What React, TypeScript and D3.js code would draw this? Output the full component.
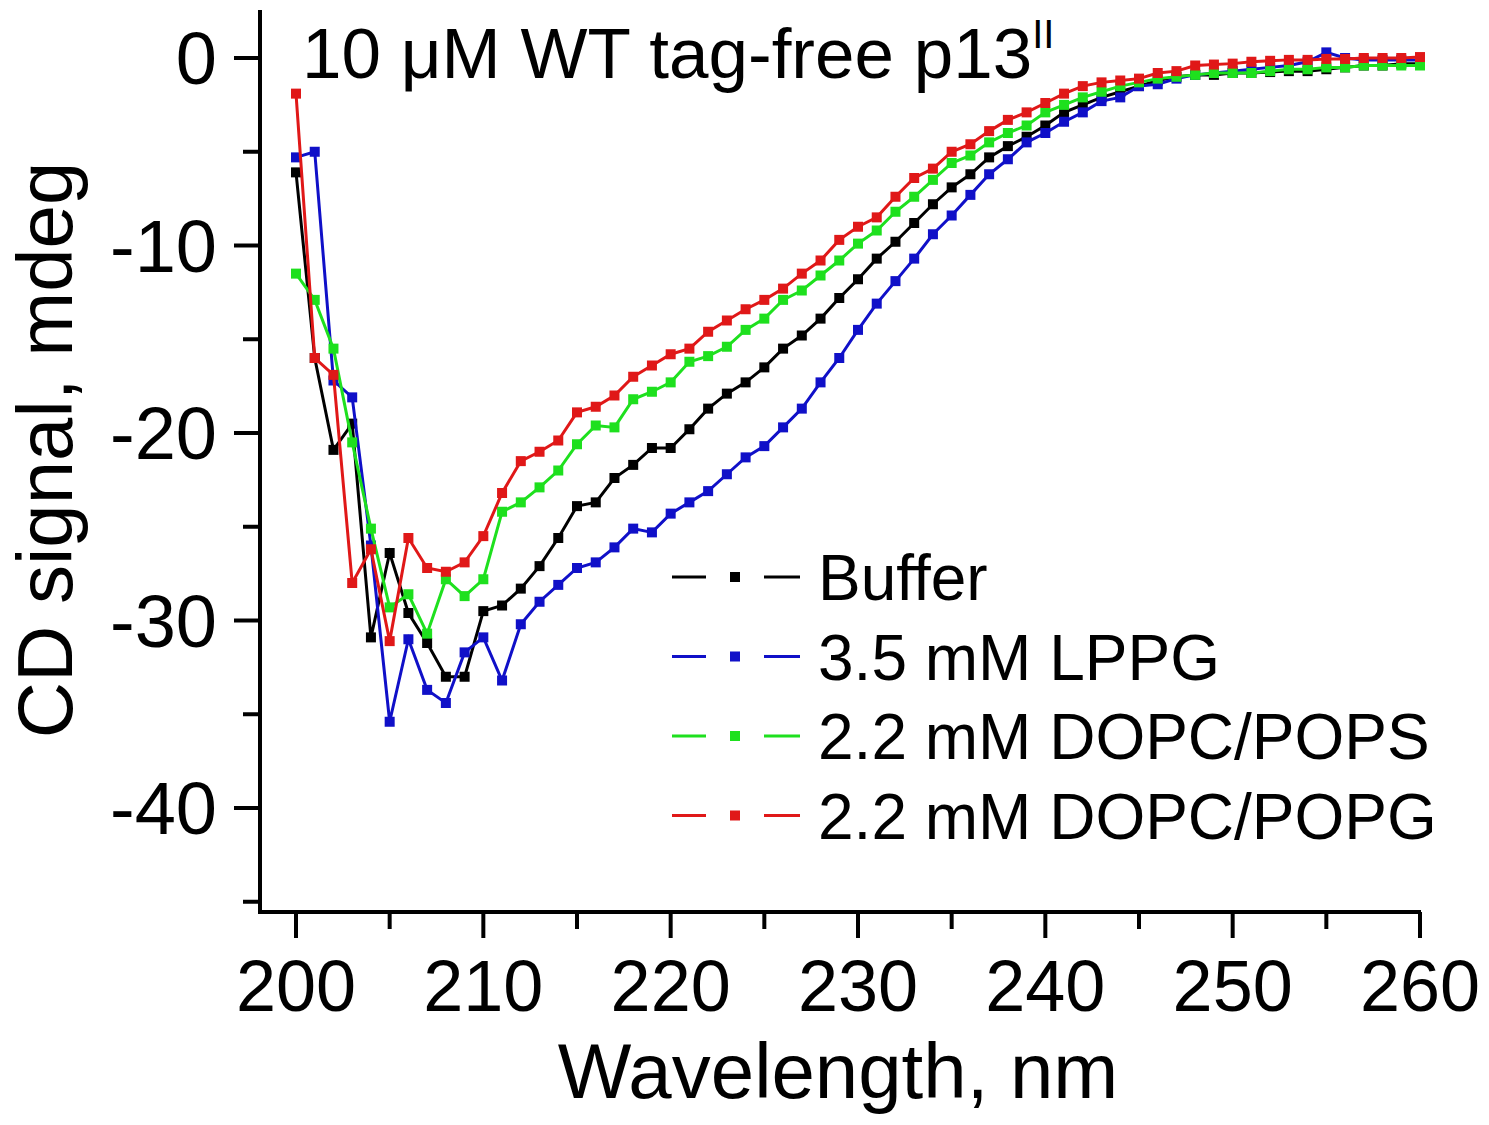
import React from "react";
import * as d3 from "d3";

const wavelengths: number[] = d3.range(200, 261);

const buffer: number[] = [
  -6.1, -16.0, -20.9, -19.5, -30.9, -26.4, -29.6, -31.2, -33.0, -33.0,
  -29.5, -29.2, -28.3, -27.1, -25.6, -23.9, -23.7, -22.4, -21.7, -20.8,
  -20.8, -19.8, -18.7, -17.9, -17.3, -16.5, -15.5, -14.8, -13.9, -12.8,
  -11.8, -10.7, -9.8, -8.8, -7.8, -6.9, -6.2, -5.3, -4.7, -4.2,
  -3.6, -2.9, -2.5, -2.1, -1.8, -1.5, -1.2, -1.0, -0.9, -0.9,
  -0.8, -0.8, -0.75, -0.7, -0.7, -0.6, -0.5, -0.4, -0.4, -0.3, -0.3,
];

const lppg: number[] = [
  -5.3, -5.0, -17.2, -18.1, -26.0, -35.4, -31.0, -33.7, -34.4, -31.7,
  -30.9, -33.2, -30.2, -29.0, -28.1, -27.2, -26.9, -26.1, -25.1, -25.3,
  -24.3, -23.7, -23.1, -22.2, -21.3, -20.7, -19.7, -18.7, -17.3, -16.0,
  -14.5, -13.1, -11.9, -10.7, -9.4, -8.4, -7.3, -6.2, -5.4, -4.5,
  -4.0, -3.4, -2.9, -2.3, -2.1, -1.5, -1.4, -1.1, -0.9, -0.8,
  -0.7, -0.6, -0.5, -0.4, -0.2, 0.3, 0.0, -0.1, -0.1, -0.1, -0.1,
];

const dopcPops: number[] = [
  -11.5, -12.9, -15.5, -20.5, -25.1, -29.3, -28.6, -30.7, -27.8, -28.7,
  -27.8, -24.2, -23.7, -22.9, -22.0, -20.6, -19.6, -19.7, -18.2, -17.8,
  -17.3, -16.2, -15.9, -15.4, -14.5, -13.9, -12.9, -12.4, -11.6, -10.8,
  -9.9, -9.2, -8.2, -7.4, -6.5, -5.6, -5.2, -4.5, -4.0, -3.6,
  -2.9, -2.5, -2.1, -1.8, -1.5, -1.3, -1.1, -1.0, -0.9, -0.8,
  -0.8, -0.8, -0.7, -0.6, -0.6, -0.5, -0.5, -0.4, -0.4, -0.4, -0.4,
];

const dopcPopg: number[] = [
  -1.9, -16.0, -16.9, -28.0, -26.2, -31.1, -25.6, -27.2, -27.4, -26.9,
  -25.5, -23.2, -21.5, -21.0, -20.4, -18.9, -18.6, -18.0, -17.0, -16.4,
  -15.8, -15.5, -14.6, -14.0, -13.4, -12.9, -12.3, -11.5, -10.8, -9.7,
  -9.0, -8.5, -7.4, -6.4, -5.9, -5.0, -4.6, -3.9, -3.3, -2.9,
  -2.4, -1.9, -1.5, -1.3, -1.2, -1.1, -0.8, -0.7, -0.4, -0.35,
  -0.3, -0.2, -0.15, -0.1, -0.1, -0.05, -0.05, 0.0, 0.0, 0.0, 0.05,
];

const seriesNames: string[] = ["Buffer", "3.5 mM LPPG", "2.2 mM DOPC/POPS", "2.2 mM DOPC/POPG"];
const seriesValues: number[][] = [buffer, lppg, dopcPops, dopcPopg];
const seriesColors: string[] = ["#000000", "#1010c8", "#1ee01e", "#e01818"];

const xMajorTicks: number[] = [200, 210, 220, 230, 240, 250, 260];
const xMinorTicks: number[] = [205, 215, 225, 235, 245, 255];
const yMajorTicks: number[] = [0, -10, -20, -30, -40];
const yMinorTicks: number[] = [-5, -15, -25, -35, -45];

const FONT = "'Liberation Sans', Arial, Helvetica, sans-serif";

export default function App() {
  const W = 1489;
  const H = 1125;
  const left = 260;
  const right = 1420;
  const top = 10;
  const bottom = 912;

  const x = d3.scaleLinear().domain([200, 260]).range([296, 1420]);
  const y = d3.scaleLinear().domain([0, -40]).range([58, 808]);

  const line = d3
    .line<number>()
    .x((_, i) => x(wavelengths[i]))
    .y((d) => y(d));

  const ms = 10;

  return (
    <svg
      width={W}
      height={H}
      viewBox={`0 0 ${W} ${H}`}
      style={{ position: "absolute", left: 0, top: 0, background: "#fff" }}
      fontFamily={FONT}
    >
      <rect x={0} y={0} width={W} height={H} fill="#fff" />

      {/* series */}
      {seriesValues.map((vals, si) => (
        <g key={si}>
          <path d={line(vals) || ""} fill="none" stroke={seriesColors[si]} strokeWidth={3} />
          {vals.map((v, i) => (
            <rect
              key={i}
              x={x(wavelengths[i]) - ms / 2}
              y={y(v) - ms / 2}
              width={ms}
              height={ms}
              fill={seriesColors[si]}
            />
          ))}
        </g>
      ))}

      {/* axes */}
      <line x1={left} x2={left} y1={top} y2={bottom + 2} stroke="#000" strokeWidth={4} />
      <line x1={left - 2} x2={right + 1} y1={bottom} y2={bottom} stroke="#000" strokeWidth={4} />

      {xMajorTicks.map((t) => (
        <g key={"xt" + t}>
          <line x1={x(t)} x2={x(t)} y1={bottom} y2={bottom + 26} stroke="#000" strokeWidth={4} />
          <text x={x(t)} y={1011} fontSize={72} textAnchor="middle" fill="#000">
            {t}
          </text>
        </g>
      ))}
      {xMinorTicks.map((t) => (
        <line key={"xm" + t} x1={x(t)} x2={x(t)} y1={bottom} y2={bottom + 17} stroke="#000" strokeWidth={4} />
      ))}

      {yMajorTicks.map((t) => (
        <g key={"yt" + t}>
          <line x1={left - 26} x2={left} y1={y(t)} y2={y(t)} stroke="#000" strokeWidth={4} />
          <text x={217} y={y(t) + 26} fontSize={74} textAnchor="end" fill="#000">
            {t === 0 ? "0" : "-" + Math.abs(t)}
          </text>
        </g>
      ))}
      {yMinorTicks.map((t) => (
        <line key={"ym" + t} x1={left - 17} x2={left} y1={y(t)} y2={y(t)} stroke="#000" strokeWidth={4} />
      ))}

      {/* axis titles */}
      <text x={838} y={1098} fontSize={78} textAnchor="middle" fill="#000">
        Wavelength, nm
      </text>
      <text
        transform={`translate(72, 450) rotate(-90)`}
        fontSize={78}
        textAnchor="middle"
        fill="#000"
      >
        CD signal, mdeg
      </text>

      {/* title */}
      <text x={302} y={78} fontSize={71} fill="#000">
        10 μM WT tag-free p13
        <tspan fontSize={40} dy={-30}>II</tspan>
      </text>

      {/* legend */}
      {seriesNames.map((name, i) => {
        const cy = 577 + i * 79.5;
        return (
          <g key={"lg" + i}>
            <line x1={672} x2={706} y1={cy} y2={cy} stroke={seriesColors[i]} strokeWidth={3} />
            <rect x={735 - 5} y={cy - 5} width={10} height={10} fill={seriesColors[i]} />
            <line x1={764} x2={800} y1={cy} y2={cy} stroke={seriesColors[i]} strokeWidth={3} />
            <text x={818} y={cy + 23} fontSize={64} fill="#000">
              {name}
            </text>
          </g>
        );
      })}
    </svg>
  );
}
